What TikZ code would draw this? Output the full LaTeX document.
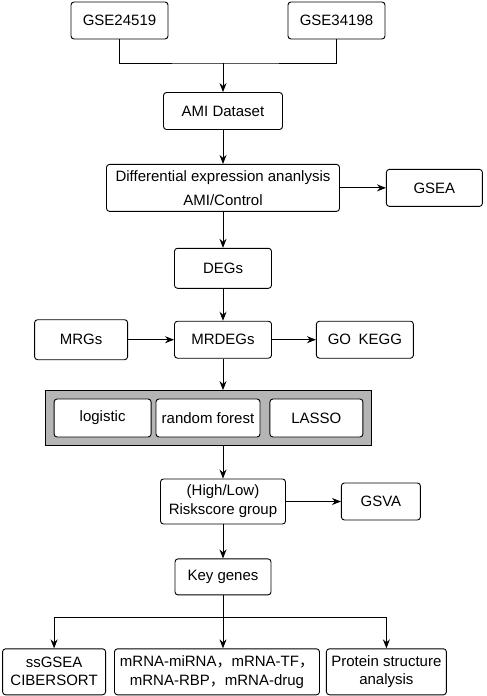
\documentclass[tikz,border=0pt]{standalone}
\usepackage{fontspec}
\setmainfont{Liberation Sans}
\newfontfamily\cjk{Noto Sans CJK SC}
\usetikzlibrary{
  positioning,
  arrows.meta,
  fit,
  backgrounds
}

\begin{document}
\begin{tikzpicture}[x=1pt, y=1pt, node distance=34pt and 46pt,
  every node/.style={font=\fontsize{15}{18}\selectfont}, align=center,
  box/.style={draw, rounded corners=3pt, line width=0.9pt, inner sep=2pt, minimum height=37pt, fill=white},
  method/.style={box, minimum height=38pt},
  panel/.style={draw, line width=0.9pt, fill=gray!58, inner sep=8pt},
  arrow/.style={-{Stealth[length=9pt, width=7pt]}, line width=0.9pt},
  link/.style={line width=0.9pt}
]
\useasboundingbox (0,0) rectangle (487,-696);

% Nodes
\node[box, minimum width=97pt] (gseA) at (119.5,-20.5) {GSE24519};
\node[box, minimum width=97pt] (gseB) at (336.5,-20.5) {GSE34198};
\node[box, minimum width=119pt] (ami) at (223,-111) {AMI Dataset};
\node[box, minimum width=233pt, minimum height=47pt, below=34pt of ami] (diff) {Differential expression ananlysis\\[6pt] AMI/Control};
\node[box, minimum width=96pt, right=46pt of diff] (gsea) {GSEA};
\node[box, minimum width=97pt, minimum height=40pt, below=36pt of diff] (degs) {DEGs};
\node[box, minimum width=97pt, below=32pt of degs] (mrdegs) {MRDEGs};
\node[box, minimum width=93pt, minimum height=40pt, left=46pt of mrdegs] (mrgs) {MRGs};
\node[box, minimum width=97pt, right=44pt of mrdegs] (gokegg) {GO\enspace KEGG};

\node[method, minimum width=104pt] (forest) at (208,-418) {random forest};
\node[method, minimum width=97pt, left=4pt of forest] (logistic) {logistic};
\node[method, minimum width=93pt, right=9pt of forest] (lasso) {LASSO};
\begin{scope}[on background layer]
  \node[panel, fit=(logistic)(lasso)] (models) {};
\end{scope}

\node[box, minimum width=125pt, minimum height=45pt] (risk) at (223,-501.5) {(High/Low)\\[1pt] Riskscore group};
\node[box, minimum width=79pt, right=55pt of risk] (gsva) {GSVA};
\node[box, minimum width=96pt, minimum height=36pt, below=34pt of risk] (keygenes) {Key genes};

\node[box, minimum width=205pt, minimum height=46pt, below=53pt of keygenes, xshift=-6pt] (mirna) {mRNA-miRNA{\cjk ，}mRNA-TF{\cjk ，}\\[1pt] mRNA-RBP{\cjk ，}mRNA-drug};
\node[box, minimum width=103pt, minimum height=46pt, left=8pt of mirna] (immune) {ssGSEA\\ CIBERSORT};
\node[box, minimum width=120pt, minimum height=46pt, right=6pt of mirna] (protein) {Protein structure\\ analysis};

% Arrows
\coordinate (merge) at (ami |- 0,-63);
\draw[link] (gseA) |- (merge) -| (gseB);
\draw[arrow] (merge) -- (ami);
\draw[arrow] (ami) -- (diff);
\draw[arrow] (diff) -- (gsea);
\draw[arrow] (diff) -- (degs);
\draw[arrow] (degs) -- (mrdegs);
\draw[arrow] (mrgs) -- (mrdegs);
\draw[arrow] (mrdegs) -- (gokegg);
\draw[arrow] (mrdegs) -- (mrdegs |- models.north);
\draw[arrow] (models.south -| risk) -- (risk);
\draw[arrow] (risk) -- (gsva);
\draw[arrow] (risk) -- (keygenes);

\coordinate[below=22pt of keygenes] (split);
\draw[link] (keygenes) -- (split);
\draw[arrow] (split) -| (immune);
\draw[arrow] (split) -- (split |- mirna.north);
\draw[arrow] (split) -| (protein);

\end{tikzpicture}
\end{document}
